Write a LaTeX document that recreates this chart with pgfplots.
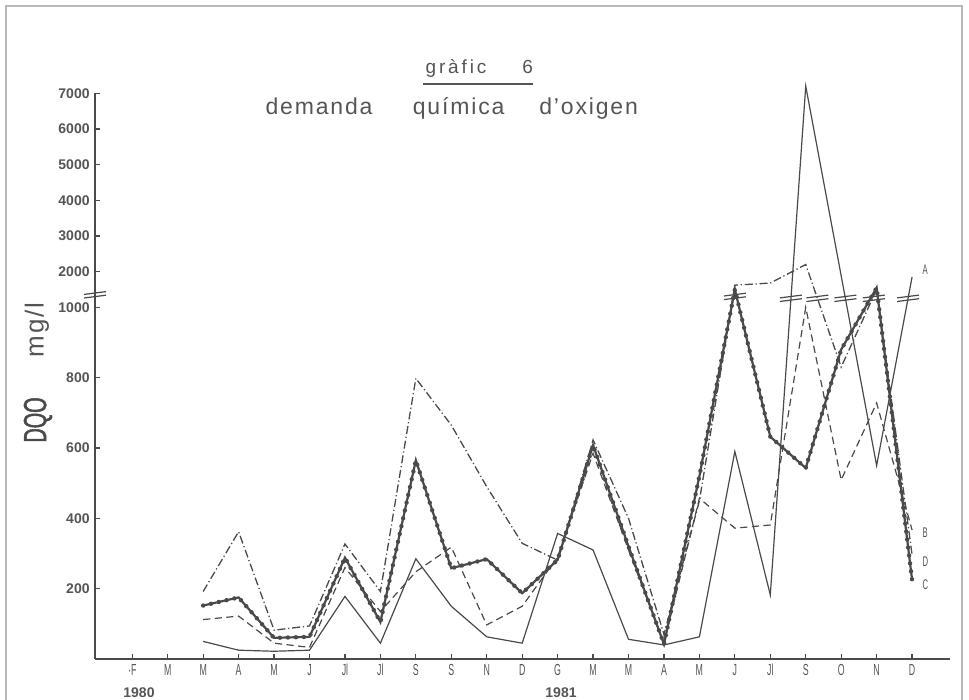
\documentclass[border=0pt]{standalone}
\usepackage{fontspec}
\setmainfont{Liberation Sans}
\usepackage{pgfplots}
\usepackage{pgfplotstable}
\pgfplotsset{compat=1.18}
\newfontfamily\titlefont[LetterSpace=8]{Liberation Sans}
\newfontfamily\grafont[LetterSpace=15]{Liberation Sans}
\newfontfamily\monthfont[FakeStretch=0.55]{Liberation Sans}
\newfontfamily\dqofont[FakeStretch=0.62,FakeBold=1.5]{Liberation Sans}
\definecolor{ink}{HTML}{4A4A4A}
\definecolor{txt}{HTML}{555555}
\pgfdeclareplotmark{brk}{%
  \pgfpathmoveto{\pgfqpoint{-5.5pt}{0.3pt}}\pgfpathlineto{\pgfqpoint{5.5pt}{1.7pt}}%
  \pgfpathmoveto{\pgfqpoint{-5.5pt}{-1.5pt}}\pgfpathlineto{\pgfqpoint{5.5pt}{-0.1pt}}%
  \pgfusepathqstroke}

% A: solid thin
\pgfplotstableread{
x y
2 50
3 25
4 22
5 25
6 178
7 45
8 285
9 150
10 63
11 45
12 357
13 310
14 56
15 40
16 63
17 590
18 182
19 7200
21 550
22 1850
}\tabA
% B: dashed
\pgfplotstableread{
x y
2 112
3 122
4 45
5 33
6 260
7 135
8 248
9 318
10 97
11 150
12 290
13 585
14 310
15 45
16 457
17 372
18 381
19 1000
20 509
21 728
22 367
}\tabB
% C: thick with dots
\pgfplotstableread{
x y
2 152
3 175
4 60
5 63
6 288
7 105
8 565
9 258
10 284
11 187
12 282
13 608
14 320
15 42
16 520
17 1500
18 632
19 543
20 880
21 1550
22 225
}\tabC
% D: dash-dot
\pgfplotstableread{
x y
2 192
3 362
4 82
5 94
6 327
7 192
8 798
9 665
10 490
11 329
12 281
13 623
14 400
15 70
16 450
17 1620
18 1680
19 2200
20 830
21 1500
22 296
}\tabD

\begin{document}
\begin{tikzpicture}
\useasboundingbox (0,0) rectangle (484.5pt,350pt);
\fill[white] (0,0) rectangle (484.5pt,350pt);
\draw[gray!55, line width=0.6pt] (3pt,0) -- (3pt,347pt) -- (481pt,347pt) -- (481pt,0);

\begin{axis}[
  at={(47.5pt,20.5pt)}, anchor=south west,
  scale only axis, width=427.5pt, height=282.85pt,
  xmin=-1.052, xmax=23.07, ymin=0, ymax=7000,
  y coord trafo/.code={\pgfmathparse{#1>1000 ? 1000+(#1-1000)*0.10142 : #1}},
  y coord inv trafo/.code={\pgfmathparse{#1>1000 ? 1000+(#1-1000)/0.10142 : #1}},
  axis x line=bottom, axis y line=left,
  axis line style={-, ink, line width=0.7pt},
  tick align=inside, major tick length=2.5pt,
  tick style={ink, line width=0.6pt},
  xtick={0,...,22},
  xticklabels={·F,M,M,A,M,J,Jl,Jl,S,S,N,D,G,M,M,A,M,J,Jl,S,O,N,D},
  ytick={200,400,600,800,1000,2000,3000,4000,5000,6000,7000},
  yticklabels={200,400,600,800,1000,2000,3000,4000,5000,6000,7000},
  xticklabel style={font=\monthfont\fontsize{8}{8}\selectfont, text=txt, inner sep=1pt, yshift=-1.5pt},
  yticklabel style={font=\bfseries\fontsize{7}{7}\selectfont, text=txt, inner sep=1pt, xshift=-1.5pt},
  clip=false,
]
\addplot[ink, line width=0.6pt] table {\tabA};
\addplot[ink, line width=0.6pt, dash pattern=on 3.6pt off 2.2pt] table {\tabB};
\addplot[ink, line width=0.65pt, dash pattern=on 4pt off 1.4pt on 0.6pt off 1.4pt] table {\tabD};
\addplot[ink, line width=1.1pt] table {\tabC};
\addplot[ink, line width=2.2pt, line cap=round, dash pattern=on 0pt off 4pt] table {\tabC};
\addplot[only marks, mark=brk, mark options={ink, line width=0.6pt}] coordinates {
(-1.052,1345) (17,1300) (18.58,1247) (19.33,1247) (20.12,1247) (20.92,1247) (21.886,1247)};
\node[font=\monthfont\fontsize{7}{7}\selectfont, text=txt, anchor=west] at (axis cs:22.1,2045) {A};
\node[font=\monthfont\fontsize{7}{7}\selectfont, text=txt, anchor=west] at (axis cs:22.1,358) {B};
\node[font=\monthfont\fontsize{7}{7}\selectfont, text=txt, anchor=west] at (axis cs:22.1,276) {D};
\node[font=\monthfont\fontsize{7}{7}\selectfont, text=txt, anchor=west] at (axis cs:22.1,210) {C};
\end{axis}

% year labels
\node[font=\bfseries\fontsize{7}{7}\selectfont, text=txt] at (69.5pt,3.8pt) {1980};
\node[font=\bfseries\fontsize{7}{7}\selectfont, text=txt] at (280.5pt,3.8pt) {1981};
% y label
\node[font=\dqofont\fontsize{16}{16}\selectfont, text=ink, rotate=90] at (19pt,140pt) {DQO};
\node[font=\titlefont\fontsize{13}{13}\selectfont, text=txt, rotate=90] at (18.5pt,185pt) {mg/l};
% title
\node[font=\grafont\fontsize{9.5}{9.5}\selectfont, text=txt, anchor=base] at (228pt,313.3pt) {gràfic};
\node[font=\titlefont\fontsize{9.5}{9.5}\selectfont, text=txt, anchor=base] at (263.8pt,313.3pt) {6};
\draw[txt, line width=0.8pt] (211.5pt,308pt) -- (266.5pt,308pt);
\node[font=\titlefont\fontsize{11.5}{11.5}\selectfont, text=txt, anchor=base] at (159.5pt,292.5pt) {demanda};
\node[font=\titlefont\fontsize{11.5}{11.5}\selectfont, text=txt, anchor=base] at (229.3pt,292.5pt) {química};
\node[font=\titlefont\fontsize{11.5}{11.5}\selectfont, text=txt, anchor=base] at (294.3pt,292.5pt) {d’oxigen};
\end{tikzpicture}
\end{document}
